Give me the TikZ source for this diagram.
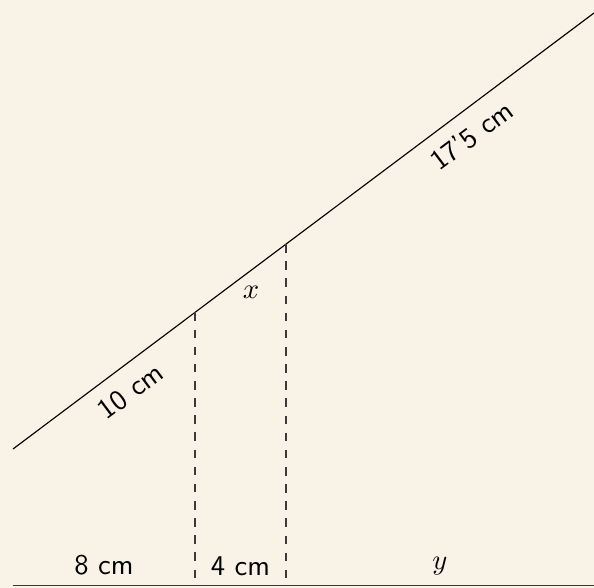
\documentclass[tikz,border=0pt]{standalone}
\usepackage{tikz}
\usepackage{xcolor}
\definecolor{bgcream}{HTML}{F8F2E7}
\definecolor{linegray}{HTML}{3A3A3A}

\begin{document}
\begin{tikzpicture}[x=0.35pt, y=-0.35pt, font=\sffamily,
    lbl/.style={inner sep=0.333em, text=black},
    guide/.style={dashed, linegray}]

% Background
\fill[bgcream] (0,0) rectangle (594,588);
\useasboundingbox (0,0) rectangle (594,588);

% Points
\coordinate (O) at (13,585.5);
\coordinate (E) at (594,585.5);
\coordinate (A) at (13,449);
\coordinate (B) at (594,13);
\coordinate (P) at (195,312.4);
\coordinate (Q) at (286,244.1);

% Slanted line
\draw (A) -- node[lbl, sloped, below=1.5pt, pos=0.177] {10 cm}
      node[lbl, sloped, below=1.5pt, pos=0.764] {17'5 cm} (B);

% Dashed verticals
\draw[guide] (P) -- (P |- O);
\draw[guide] (Q) -- (Q |- O);

% Base line
\draw[linegray] (O) -- node[lbl, above] {8 cm} (P |- O)
      -- node[lbl, above] {4 cm} (Q |- O)
      -- node[lbl, above] {$y$} (E);

% Middle segment
\node[lbl] (xlbl) at (251,292) {$x$};

\end{tikzpicture}
\end{document}
